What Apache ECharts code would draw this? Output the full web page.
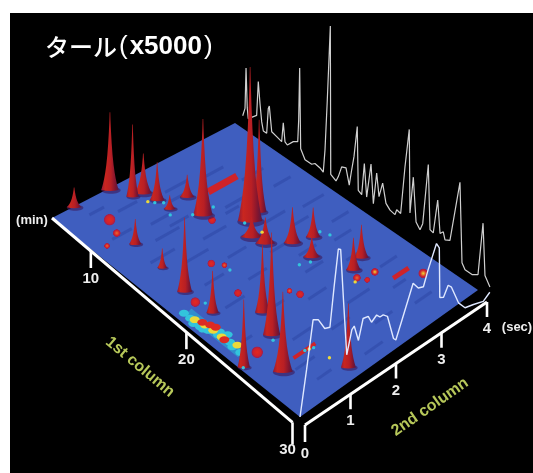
<!DOCTYPE html>
<html><head><meta charset="utf-8"><style>html,body{margin:0;padding:0;background:#fff}#c{width:533px;height:473px;filter:blur(0.45px)}</style></head>
<body><div id="c"></div>
<script src="https://cdn.jsdelivr.net/npm/echarts@6/dist/echarts.min.js"></script>
<script>
// ---- data ----
const t1Ticks = [10, 20, 30];
const t2Ticks = [0, 1, 2, 3, 4];
const titleJa = 'タール', titleScale = 'x5000';
// t1 (min), t2 (sec), height, half width
const peaks = [[5.7,.43,20,6],[5.8,1.15,80,7],[7.4,1.32,74,5],[7.6,1.51,41,7],[8.8,1.57,39,6],[9.9,2.0,23,6],[10.1,1.58,14,5],[12.1,1.89,98,8],[14.7,2.38,157,10],[14.4,2.65,95,6],[16.0,2.13,20,9],[17.1,2.19,26,8],[18.3,2.53,36,7],[18.8,2.89,30,6],[11.4,.6,25,5],[14.4,.56,19,4],[17.1,.47,71,6],[19.8,.48,40,5],[21.9,1.06,64,6],[23.8,.83,96,7],[24.7,.06,62,5],[26.6,.43,73,8],[29.1,1.22,59,6],[23.0,2.82,32,6],[22.5,3.13,33,6],[20.2,2.53,20,7]];
// t1, t2, size, kind (0 red, 1 orange, 2 yellow core)
const blobs = [[8.3,.67,6,0],[9.7,.55,4,1],[10.3,.24,3,1],[12.9,1.92,4,0],[16.2,1.21,4,0],[16.9,1.34,3,1],[18.3,.44,5,0],[19.5,1.07,4,0],[24.3,.42,6,0],[22.3,1.78,4,0],[21.6,1.71,3,1],[23.7,2.73,4,1],[24.3,2.82,3,0],[24.1,3.05,4,2],[26.4,3.62,5,2]];
// t1, t2 from, t2 to, height
const ridges = [[10.7,2.3,2.95,7],[25.5,3.13,3.5,4],[26.3,.72,1.18,3]];
// low broad band: t1 from, t1 to, t2
const stripe = [18.7,23.7,.22];
// t1, t2, kind (c cyan, y yellow, r red)
const band = [[18.6,.15,'c'],[19.2,.15,'c'],[19.5,.18,'y'],[19.8,.18,'c'],[20.0,.23,'r'],[20.3,.22,'y'],[20.5,.28,'r'],[20.9,.31,'r'],[21.0,.24,'y'],[20.8,.18,'c'],[21.4,.29,'c'],[22.1,.23,'r'],[21.8,.24,'y'],[21.9,.34,'c'],[22.5,.26,'c'],[22.9,.22,'c'],[23.0,.30,'y'],[23.6,.23,'c'],[21.5,.23,'c'],[20.2,.14,'c'],[19.7,.11,'c'],[20.5,.14,'c']];
const accents = [[8.5,1.43,'y'],[8.9,1.5,'c'],[9.3,1.61,'c'],[10.6,1.49,'c'],[11.6,1.77,'c'],[11.9,2.16,'c'],[14.6,2.28,'c'],[16.1,2.34,'y'],[20.2,2.25,'c'],[20.5,2.43,'c'],[19.4,3.14,'c'],[18.7,3.07,'c'],[17.5,1.33,'c'],[18.8,.54,'c'],[24.7,.05,'c'],[27.7,1.15,'y'],[24.2,.77,'c'],[23.9,2.64,'y'],[26.3,1.05,'y'],[26.2,.98,'c'],[26.4,1.12,'c']];
// faint low-level signal: t1, t2 from, t2 to
const traces = [[8,.9,1.3],[8.5,1.8,2.3],[9,2.6,3],[10,.4,.8],[10.5,1.1,1.5],[11,3,3.5],[12,.9,1.4],[12.5,2.3,2.8],[13,3.3,3.7],[13.5,.5,1],[14,1.5,2],[15,.9,1.4],[15.5,2.5,3],[16,3.3,3.8],[16.5,1.5,1.9],[17.5,.8,1.2],[18,2.1,2.6],[18.5,3.4,3.8],[19,1.4,1.8],[20,.7,1.1],[20,3.1,3.5],[21,2.2,2.6],[22,1.2,1.5],[22,2.9,3.3],[23,.3,.6],[23,1.8,2.2],[24,3.2,3.6],[25,1,1.4],[25,2.2,2.7],[26,1.6,2],[26,3,3.3],[27,.6,1],[27.5,2.2,2.6],[28,3,3.4],[28.5,.7,1],[29,1.6,2],[7,.5,.8],[9.5,1.7,2.1],[11.5,1.3,1.7],[13,2.2,2.5],[17,2.8,3.2],[19.5,2.4,2.8]];
// back-wall first-column chromatogram
const backT = [5.57,5.8,5.9,6.02,6.12,6.29,6.95,7.11,7.28,7.45,7.61,7.94,8.1,8.2,8.44,8.93,9.42,9.58,9.75,9.98,10.57,11.01,11.1,11.2,11.3,11.73,12.39,12.71,13.21,13.53,13.7,13.93,14.23,14.27,14.79,15.02,15.35,15.78,16.1,16.34,16.57,16.89,16.99,17.33,17.59,17.82,18.25,18.48,18.81,19.04,19.4,19.73,20.13,20.62,20.79,21.18,21.61,22.03,22.1,22.43,22.7,23.09,23.36,23.91,24.08,24.4,24.84,25.07,25.39,25.56,26.05,27.04,27.24,27.54,28.23,28.82,29.32,29.51,30];
const backI = [1,10,51,12,2,2.5,11,46,25,8,0,0,26,29,5,3.5,2,22,4,2.5,10,13,35,88,8,0,0,3,2,0,23,75,151,3,0,6,18,20,5,22,37,69,6,4,37,5,41,3,36,14,30,12,8,7,13,12,62,102,19,57,14,9,17,80,16,15,51,19,23,16,19,84,5,0,0,4,59,8,0];
// front second-column chromatogram
const frontT = [0,.14,.28,.39,.53,.64,.73,.82,.87,.93,1,1.11,1.16,1.25,1.35,1.46,1.53,1.64,1.71,1.78,1.87,2,2.05,2.18,2.42,2.53,2.64,2.74,2.92,2.98,2.99,3.07,3.17,3.24,3.39,3.53,3.71,3.92,4.06];
const frontI = [0,43,89,86,73,71,109,144,142,90,33,55,57,40,59,58,50,54,50,50,46,20,17,33,63,55,53,67,88,82,32,30,39,35,15,6,4,1,6];

// ---- view projection of the (t1, t2) floor ----
const T0 = 5.63, TS = 24.37;
function proj(t1, t2, z) {
  const u = (t1 - T0) / TS, v = t2 / 4, w = 1 - 0.1146 * u + 0.1045 * v;
  return [(213.62 * u + 207.56 * v + 52) / w, (151.21 * u - 82.15 * v + 218) / w - (z || 0) / w];
}
const backXY = (t, i) => { const x = 243 + (t - 5.6) * 10.12; return [x, 117 + 0.688 * (x - 243) - i]; };
const frontXY = (t, i) => { const x = 300 + t * 46.75; return [x, 417 - 0.6257 * (x - 300) - i]; };
const axis1 = t => proj(t, -0.15 * (t - T0) / TS);
const axis2 = t => [305 + 45.5 * t, 425 - 30.75 * t];
const G = echarts.graphic;
const peakFill = () => new G.LinearGradient(0, 0, 1, 0, [{offset:0,color:'#8e1a38'},{offset:.22,color:'#c9261f'},{offset:.55,color:'#b81f24'},{offset:.82,color:'#7e1530'},{offset:1,color:'#4e1a4a'}]);
const spotColor = {c:'#33c4dc', y:'#ecd93a', r:'#dc2a24'};
const sortedPeaks = peaks.slice().sort((a, b) => proj(a[0], a[1])[1] - proj(b[0], b[1])[1]);
const order = {c:0, y:1, r:2};
const sortedBand = band.slice().sort((a, b) => order[a[2]] - order[b[2]]);
const identity = {coordinateSystem:'cartesian2d', silent:true, clip:false};
const fullText = (x, y, text, extra) => ({type:'text', x, y, rotation:(extra && extra.rot) || 0,
  style:Object.assign({text, fill:'#eeeeee', font:'bold 15px "Liberation Sans"', align:'center', verticalAlign:'middle'}, extra && extra.style)});

const chart = echarts.init(document.getElementById('c'), null, {renderer:'canvas'});
chart.setOption({
  animation:false,
  backgroundColor:'#fff',
  title:{left:45, top:34, padding:0, text:'{a|'+titleJa+'}{p|(}{b|'+titleScale+'}{p|)}',
    textStyle:{rich:{
      a:{fontFamily:'Noto Sans CJK JP',fontWeight:500,fontSize:24,color:'#fff'},
      p:{fontFamily:'Liberation Sans',fontWeight:'normal',fontSize:26,color:'#fff',padding:[0,2,0,2]},
      b:{fontFamily:'Liberation Sans',fontWeight:'bold',fontSize:26,color:'#fff'}}}},
  graphic:[{type:'rect', z:-100, silent:true, shape:{x:10,y:13,width:523,height:460}, style:{fill:'#000'}}],
  grid:{left:0,right:0,top:0,bottom:0},
  xAxis:{type:'value',min:0,max:533,show:false},
  yAxis:{type:'value',min:0,max:473,inverse:true,show:false},
  series:[
    {type:'line', z:2, silent:true, showSymbol:false, data:backT.map((t,i)=>backXY(t,backI[i])), lineStyle:{color:'#cfcfcf',width:1.2}},
    {type:'custom', z:3, ...identity, data:[[T0,T0+TS]], renderItem:(p,api)=>{
      const a=api.value(0), b=api.value(1);
      return {type:'polygon', shape:{points:[proj(a,0),proj(b,0),proj(b,4),proj(a,4)].map(q=>api.coord(q))}, style:{fill:'#3f5ebf'}};
    }},
    {type:'custom', z:4, ...identity, data:traces, renderItem:(p,api)=>({type:'line',
      shape:(()=>{const s=api.coord(proj(api.value(0),api.value(1))),e=api.coord(proj(api.value(0),api.value(2)));return {x1:s[0],y1:s[1],x2:e[0],y2:e[1]};})(),
      style:{stroke:'#2a439f',lineWidth:3,opacity:.45}})},
    {type:'custom', z:5, ...identity, data:blobs, renderItem:(p,api)=>{
      const c=api.coord(proj(api.value(0),api.value(1))), r=api.value(2), k=api.value(3);
      const core=['#e4291f','#ee6a2a','#f0d838'][k];
      return {type:'ellipse', shape:{cx:c[0],cy:c[1],rx:r*1.25,ry:r*1.05},
        style:{fill:new G.RadialGradient(.5,.5,.5,[{offset:0,color:core},{offset:.6,color:'#d0222c'},{offset:.85,color:'#a02050'},{offset:1,color:'rgba(62,93,189,0)'}])}};
    }},
    {type:'custom', z:6, ...identity, data:ridges, renderItem:(p,api)=>{
      const t=api.value(0), z=api.value(3), s=api.coord(proj(t,api.value(1),z/2)), e=api.coord(proj(t,api.value(2),z/2));
      return {type:'line', shape:{x1:s[0],y1:s[1],x2:e[0],y2:e[1]},
        style:{stroke:'#cf2329',lineWidth:z*0.8+1.5,lineCap:'butt'}};
    }},
    {type:'custom', z:6, ...identity, data:[stripe], renderItem:(p,api)=>{
      const s=api.coord(proj(api.value(0),api.value(2))), e=api.coord(proj(api.value(1),api.value(2)));
      return {type:'line', shape:{x1:s[0],y1:s[1],x2:e[0],y2:e[1]}, style:{stroke:'#2d9fd2',lineWidth:9,opacity:.75}};
    }},
    {type:'custom', z:7, ...identity, data:sortedBand, renderItem:(p,api)=>{
      const c=api.coord(proj(api.value(0),api.value(1)));
      return {type:'ellipse', shape:{cx:c[0],cy:c[1],rx:5,ry:3.4}, style:{fill:spotColor[api.value(2)]}};
    }},
    {type:'custom', z:8, ...identity, data:sortedPeaks, renderItem:(p,api)=>{
      const t1=api.value(0), t2=api.value(1), h=api.value(2), W=api.value(3)*1.2;
      const b=api.coord(proj(t1,t2)), a=api.coord(proj(t1,t2,h)), H=b[1]-a[1];
      const fs=[0,.04,.08,.14,.22,.32,.45,.6,.75,.9,1], L=[], R=[];
      fs.forEach(f=>{
        const hw=W*(0.55*Math.pow(1-f,1.3)+0.45*Math.pow(1-f,5))+0.3;
        L.push([b[0]-hw,b[1]-H*f]); R.unshift([b[0]+hw,b[1]-H*f]);
      });
      const bottom=[[b[0]+W*.5,b[1]+W*.1],[b[0],b[1]+W*.14],[b[0]-W*.5,b[1]+W*.1]];
      return {type:'group', children:[
        {type:'ellipse', shape:{cx:b[0]+1,cy:b[1]+W*.05,rx:W*1.15,ry:W*.42}, style:{fill:'rgba(60,25,90,.6)'}},
        {type:'polygon', shape:{points:L.concat(R,bottom)}, style:{fill:peakFill()}}
      ]};
    }},
    {type:'custom', z:9, ...identity, data:accents, renderItem:(p,api)=>{
      const c=api.coord(proj(api.value(0),api.value(1)));
      return {type:'circle', shape:{cx:c[0],cy:c[1],r:1.7}, style:{fill:spotColor[api.value(2)]}};
    }},
    {type:'line', z:10, silent:true, showSymbol:false, data:frontT.map((t,i)=>frontXY(t,frontI[i])), lineStyle:{color:'#dfe8ff',width:1.4}},
    // first-column axis
    {type:'custom', z:11, ...identity, data:[[T0,30]], renderItem:(p,api)=>{
      const s=api.coord(axis1(api.value(0))), e=api.coord(axis1(api.value(1)));
      return {type:'line', shape:{x1:s[0],y1:s[1],x2:e[0],y2:e[1]}, style:{stroke:'#fff',lineWidth:3}};
    }},
    {type:'custom', z:11, ...identity, data:t1Ticks.map(t=>[t]), renderItem:(p,api)=>{
      const t=api.value(0), q=api.coord(axis1(t)), last=t===30, len=last?22:17;
      return {type:'group', children:[
        {type:'line', shape:{x1:q[0],y1:q[1],x2:q[0],y2:q[1]+len}, style:{stroke:'#fff',lineWidth:2.6}},
        fullText(q[0]-(last?5:0), q[1]+28, String(t))
      ]};
    }},
    // second-column axis
    {type:'custom', z:11, ...identity, data:[[0,4]], renderItem:(p,api)=>{
      const s=api.coord(axis2(api.value(0))), e=api.coord(axis2(api.value(1)));
      return {type:'line', shape:{x1:s[0],y1:s[1],x2:e[0],y2:e[1]}, style:{stroke:'#fff',lineWidth:3}};
    }},
    {type:'custom', z:11, ...identity, data:t2Ticks.map(t=>[t]), renderItem:(p,api)=>{
      const t=api.value(0), q=api.coord(axis2(t)), first=t===0;
      return {type:'group', children:[
        {type:'line', shape:{x1:q[0],y1:q[1],x2:q[0],y2:q[1]+(first?17:15)}, style:{stroke:'#fff',lineWidth:2.6}},
        fullText(q[0], q[1]+(first?29:27), String(t))
      ]};
    }},
    // axis names and units
    {type:'custom', z:11, ...identity, data:[[0]], renderItem:(p,api)=>{
      const A=api.coord(axis1(T0)), B=api.coord(axis2(4));
      return {type:'group', children:[
        fullText(A[0]-20, A[1]+2, '(min)', {style:{font:'bold 13px "Liberation Sans"'}}),
        fullText(B[0]+30, B[1]+25, '(sec)', {style:{font:'bold 13px "Liberation Sans"'}}),
        fullText(140, 367, '1st column', {rot:-40*Math.PI/180, style:{fill:'#b7c85a',font:'bold 16px "Liberation Sans"'}}),
        fullText(430, 407, '2nd column', {rot:35*Math.PI/180, style:{fill:'#b7c85a',font:'bold 16px "Liberation Sans"'}})
      ]};
    }}
  ]
});
</script></body></html>
